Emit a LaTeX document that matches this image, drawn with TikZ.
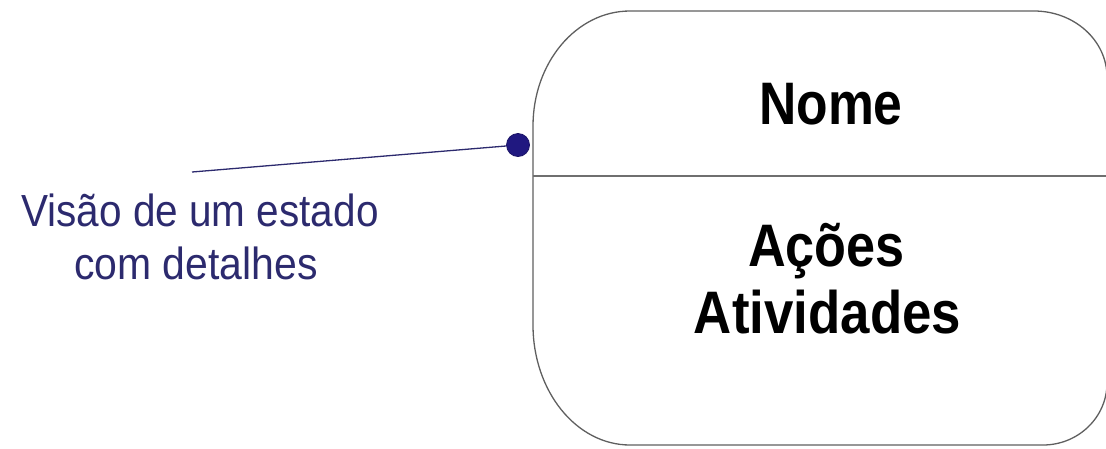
\documentclass[tikz,border=0pt]{standalone}
\usepackage{fontspec}
\usepackage{graphicx}
\setmainfont{Liberation Sans}
\definecolor{labelblue}{RGB}{44,42,110}
\definecolor{dotblue}{RGB}{32,24,128}
\definecolor{boxgray}{RGB}{95,95,95}
\tikzset{
  boxline/.style={draw=boxgray, line width=1.3pt},
  divline/.style={draw=boxgray!90, line width=2pt},
  bigtext/.style={inner sep=0pt, anchor=base, font=\fontsize{60}{67}\selectfont\bfseries, text=black},
  labeltext/.style={inner sep=0pt, anchor=base, font=\fontsize{45}{52}\selectfont, text=labelblue},
  pin/.style={circle, fill=dotblue, draw=dotblue!80!black, line width=0.8pt, minimum size=23pt, inner sep=0pt},
  leader/.style={draw=labelblue, line width=1.3pt}
}
\begin{document}
\begin{tikzpicture}[x=1pt,y=-1pt]
\useasboundingbox (0,0) rectangle (1106,448);
% state box
\path[boxline]
  (533,126) .. controls (533,62.5) and (576.4,11) .. (630,11)
  -- (1034,11) .. controls (1074.3,11) and (1107,40.5) .. (1107,77)
  -- (1107,383) .. controls (1107,417.2) and (1078.3,445) .. (1043,445)
  -- (630,445) .. controls (576.4,445) and (533,391.3) .. (533,325) -- cycle;
\coordinate (divL) at (533,176);
\coordinate (divR) at (1108,176);
\path[divline] (divL) -- (divR);
% texts
\node[bigtext] (nome) at (831,124) {\scalebox{0.86}[1]{Nome}};
\node[bigtext] (acoes) at (826.5,266) {\scalebox{0.87}[1]{Ações}};
\node[bigtext] (ativ) at (827.5,333) {\scalebox{0.88}[1]{Atividades}};
% label
\node[labeltext] (lab1) at (200,226) {\scalebox{0.9}[1]{Visão de um estado}};
\node[labeltext] (lab2) at (196,279) {\scalebox{0.91}[1]{com detalhes}};
% pin and leader
\coordinate (leadend) at (192,172);
\node[pin] (dot) at (518,145) {};
\path[leader] (leadend) -- (dot);
\end{tikzpicture}
\end{document}
